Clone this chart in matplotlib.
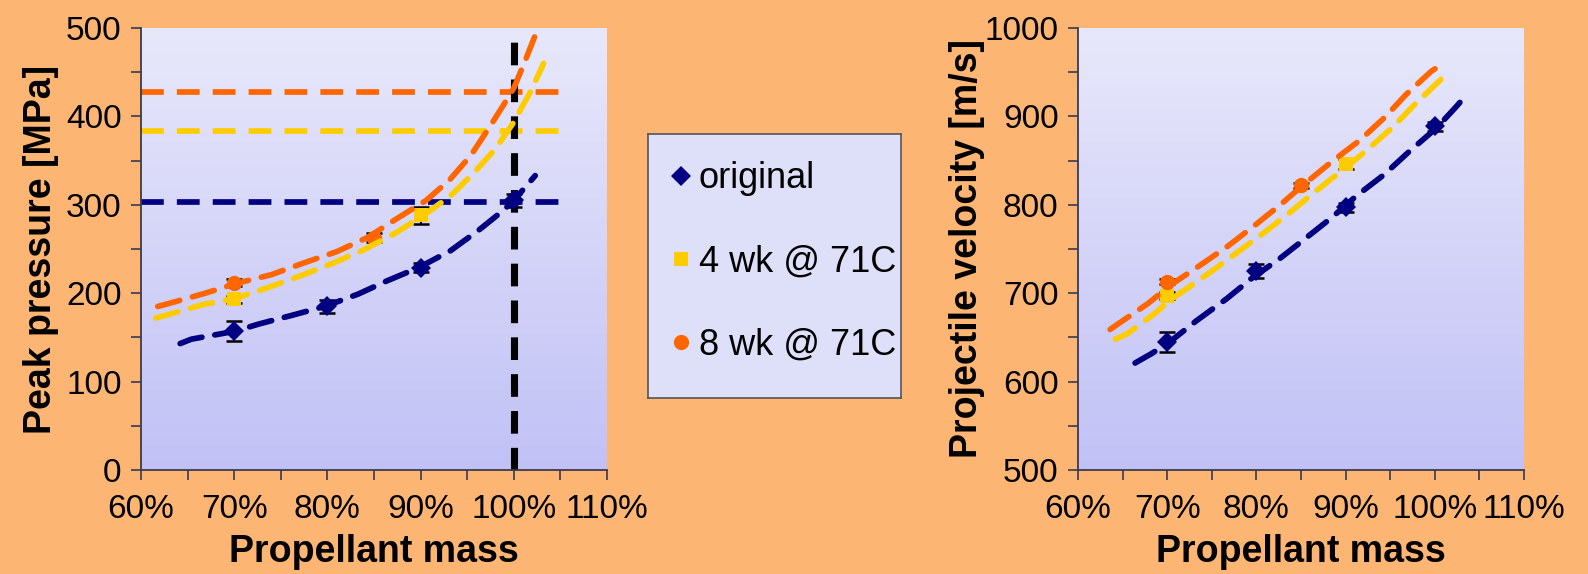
import matplotlib
matplotlib.use('Agg')
import matplotlib.pyplot as plt
import numpy as np
from matplotlib.ticker import MultipleLocator, FuncFormatter
from matplotlib.lines import Line2D

plt.rcParams['font.family'] = ['Liberation Sans', 'DejaVu Sans']

# ---------------- data ----------------
series_names = ['original', '4 wk @ 71C', '8 wk @ 71C']
series_colors = ['#000080', '#FFCC00', '#FF6600']
series_markers = ['D', 's', 'o']

# measured points (propellant mass in %)
mass_orig = [70, 80, 90, 100]
mass_4wk = [70, 90]
mass_8wk = [70, 85]

pres_orig = [157, 185, 229, 305]
pres_orig_err = [11, 7, 5, 7]
pres_4wk = [193, 288]
pres_4wk_err = [4, 10]
pres_8wk = [212, 263]
pres_8wk_err = [4, 5]

vel_orig = [645, 725, 797, 889]
vel_orig_err = [11, 8, 5, 5]
vel_4wk = [697, 846]
vel_4wk_err = [4, 6]
vel_8wk = [713, 822]
vel_8wk_err = [3, 3]

# trend curves
pt_orig_x = [64.2, 65.4, 70.1, 72.6, 76.2, 79.7, 83.3, 86.4, 89.8, 93.2, 96.2, 98.8, 100.0, 102.3]
pt_orig_y = [143, 148, 157, 165, 175, 185, 199, 214, 229, 248, 271, 293, 305, 333]
pt_4wk_x = [61.6, 63.0, 66.6, 70.1, 73.8, 77.2, 80.6, 83.9, 87.3, 90.3, 93.2, 95.7, 98.0, 99.9, 101.8, 103.2]
pt_4wk_y = [172, 176, 187, 194, 207, 220, 234, 249, 268, 288, 310, 336, 363, 392, 428, 460]
pt_8wk_x = [61.8, 63.2, 66.9, 70.2, 74.0, 77.4, 81.0, 84.3, 87.4, 90.6, 93.1, 95.4, 97.4, 98.9, 100.0, 101.3, 102.6]
pt_8wk_y = [185, 189, 200, 211, 221, 234, 247, 263, 284, 305, 328, 356, 388, 413, 432, 465, 500]

vt_orig_x = [66.4, 68.3, 70.3, 73.3, 76.7, 79.5, 82.6, 85.5, 88.5, 91.2, 94.3, 97.1, 100.2, 102.4, 103.0]
vt_orig_y = [621, 632, 645, 669, 694, 717, 739, 762, 786, 810, 834, 860, 887, 911, 918]
vt_4wk_x = [64.2, 65.5, 68.6, 70.3, 74.6, 77.7, 80.8, 83.6, 86.6, 90.0, 92.4, 95.2, 97.7, 100.5, 101.0]
vt_4wk_y = [648, 654, 677, 692, 722, 745, 768, 790, 815, 842, 862, 887, 913, 940, 945]
vt_8wk_x = [63.6, 64.6, 67.8, 70.5, 73.9, 76.9, 80.1, 82.8, 85.2, 88.6, 91.6, 94.4, 96.8, 99.6, 100.5]
vt_8wk_y = [659, 666, 688, 710, 733, 754, 779, 801, 822, 850, 873, 899, 925, 951, 957]

# pressure limits at 100 % charge
limit_values = [303, 383, 428]
limit_span = [60, 105.5]
ref_mass = 100

# ---------------- figure ----------------
BG = '#FDB574'
fig = plt.figure(figsize=(15.88, 5.74), dpi=100, facecolor=BG)

ax1 = fig.add_axes([141 / 1588, 104 / 574, 466 / 1588, 442 / 574])
ax2 = fig.add_axes([1078 / 1588, 104 / 574, 446 / 1588, 442 / 574])

grad = np.linspace(0, 1, 256).reshape(-1, 1)
top = np.array([232, 232, 251]) / 255
bot = np.array([193, 193, 246]) / 255
img = (bot[None, None, :] * (1 - grad[:, :, None]) + top[None, None, :] * grad[:, :, None])

LW = 4.1
DASH = (4.0, 2.3)


def style_axes(ax, ylim, ylabel, ylabelpad):
    ax.set_facecolor('none')
    ax.imshow(img, extent=[0, 1, 0, 1], transform=ax.transAxes, aspect='auto',
              origin='lower', zorder=0)
    ax.set_xlim(60, 110)
    ax.set_ylim(*ylim)
    ax.xaxis.set_major_locator(MultipleLocator(10))
    ax.xaxis.set_minor_locator(MultipleLocator(5))
    ax.yaxis.set_major_locator(MultipleLocator(100))
    ax.yaxis.set_minor_locator(MultipleLocator(50))
    ax.xaxis.set_major_formatter(FuncFormatter(lambda v, p: f'{v:.0f}%'))
    for s in ['top', 'right']:
        ax.spines[s].set_visible(False)
    for s in ['left', 'bottom']:
        ax.spines[s].set_color('#3a3a50')
        ax.spines[s].set_linewidth(1.3)
    ax.tick_params(which='both', direction='out', length=7, width=1.2,
                   color='#3a3a50', labelsize=24)
    ax.tick_params(axis='x', which='both', pad=10)
    ax.tick_params(axis='y', which='both', pad=7)
    ax.set_xlabel('Propellant mass', fontsize=27, fontweight='bold', labelpad=7)
    ax.set_ylabel(ylabel, fontsize=27, fontweight='bold', labelpad=ylabelpad)


style_axes(ax1, (0, 500), 'Peak pressure [MPa]', 5)
style_axes(ax2, (500, 1000), 'Projectile velocity [m/s]', 0)

# ---- left panel reference lines ----
for val, col in zip(limit_values, series_colors):
    ax1.plot(limit_span, [val, val], color=col, lw=LW, dashes=DASH,
             dash_capstyle='butt', zorder=2)
ax1.plot([ref_mass, ref_mass], [0, 500], color='black', lw=LW + 1.0, dashes=(3.2, 2.0),
         dash_capstyle='butt', zorder=2.5, clip_on=False)

p_sets = [(mass_orig, pres_orig, pres_orig_err),
          (mass_4wk, pres_4wk, pres_4wk_err),
          (mass_8wk, pres_8wk, pres_8wk_err)]
p_trends = [(pt_orig_x, pt_orig_y), (pt_4wk_x, pt_4wk_y), (pt_8wk_x, pt_8wk_y)]
v_sets = [(mass_orig, vel_orig, vel_orig_err),
          (mass_4wk, vel_4wk, vel_4wk_err),
          (mass_8wk, vel_8wk, vel_8wk_err)]
v_trends = [(vt_orig_x, vt_orig_y), (vt_4wk_x, vt_4wk_y), (vt_8wk_x, vt_8wk_y)]

msizes = [10, 10, 11]
for ax, sets, trends in [(ax1, p_sets, p_trends), (ax2, v_sets, v_trends)]:
    for (x, y, e), (tx, ty), col, mk, ms in zip(sets, trends, series_colors,
                                                 series_markers, msizes):
        ax.errorbar(x, y, yerr=e, fmt='none', ecolor='black', elinewidth=1.5,
                    capsize=6, capthick=1.8, zorder=3)
        ax.plot(x, y, linestyle='none', marker=mk, ms=ms, color=col,
                markeredgewidth=0, zorder=3.5)
        ax.plot(tx, ty, color=col, lw=LW, dashes=DASH, dash_capstyle='round',
                solid_joinstyle='round', zorder=4, clip_on=False)

# ---- legend ----
lax = fig.add_axes([648 / 1588, 176 / 574, 253 / 1588, 264 / 574])
lax.set_facecolor('#DEDFF9')
lax.set_xticks([])
lax.set_yticks([])
for s in lax.spines.values():
    s.set_color('#555555')
    s.set_linewidth(1.2)
handles = [Line2D([], [], linestyle='none', marker=mk, color=col, ms=ms,
                  markeredgewidth=0)
           for col, mk, ms in zip(series_colors, series_markers, [10, 10, 11])]
lax.legend(handles, series_names, loc='center left', bbox_to_anchor=(0.0, 0.515),
           frameon=False, fontsize=26, labelspacing=1.34, handletextpad=0.1,
           handlelength=0.8, borderpad=0.4, borderaxespad=0.11)

fig.savefig('out.png', dpi=100, facecolor=BG)
